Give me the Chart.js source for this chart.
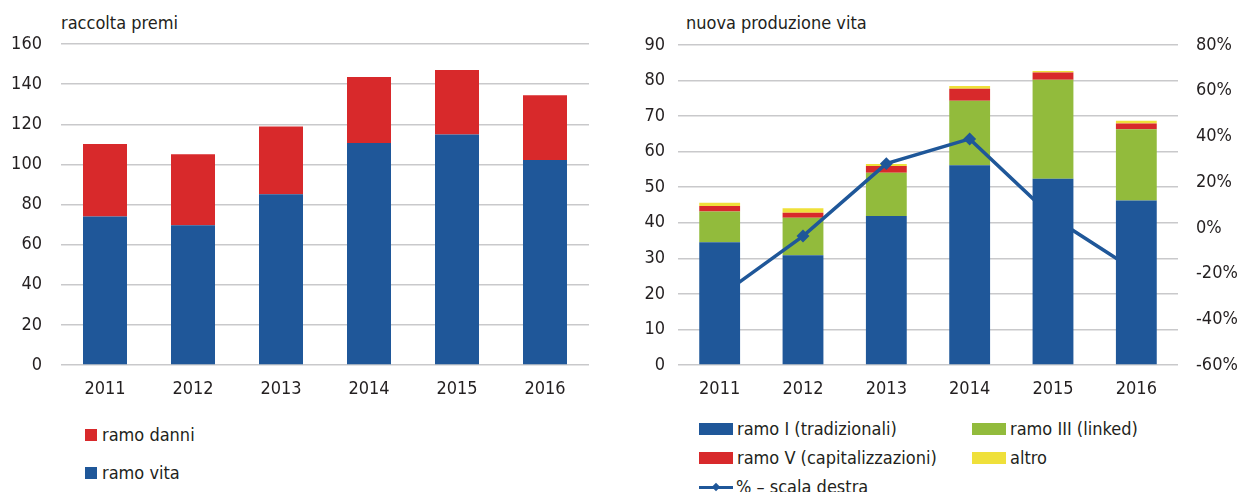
<!DOCTYPE html>
<html>
<head>
<meta charset="utf-8">
<script src="https://cdn.jsdelivr.net/npm/chart.js@4"></script>
<style>
body { margin: 0; background: #fff; width: 1243px; height: 492px; overflow: hidden; position: relative;
       font-family: 'Liberation Sans Narrow', 'DejaVu Sans Condensed', sans-serif; color: #231f20; }
.box { position: absolute; }
.title { position: absolute; font-size: 18px; line-height: 20px; }
.leg { position: absolute; font-size: 18px; line-height: 20px; height: 20px; display: flex; align-items: center; white-space: nowrap; }
.sw { display: inline-block; flex: none; }
.lineSw { position: relative; width: 34px; height: 3px; background: #1f5799; margin-right: 3px; }
.lineSw:after { content: ''; position: absolute; left: 14px; top: -2px; width: 6px; height: 6px; background: #1f5799; transform: rotate(45deg); }
</style>
</head>
<body>
<div class="title" style="left:61px; top:13px">raccolta premi</div>
<div class="title" style="left:686px; top:13px">nuova produzione vita</div>

<div class="box" style="left:0; top:0; width:620px; height:400px"><canvas id="premi"></canvas></div>
<div class="box" style="left:620px; top:0; width:623px; height:400px"><canvas id="vita"></canvas></div>

<div class="leg" style="left:85px; top:425px"><span class="sw" style="width:12px;height:12px;background:#d8292b;margin-right:5px"></span>ramo danni</div>
<div class="leg" style="left:85px; top:463px"><span class="sw" style="width:12px;height:12px;background:#1f5799;margin-right:5px"></span>ramo vita</div>

<div class="leg" style="left:699px; top:419px"><span class="sw" style="width:34px;height:12px;background:#1f5799;margin-right:4px"></span>ramo I (tradizionali)</div>
<div class="leg" style="left:972px; top:419px"><span class="sw" style="width:34px;height:12px;background:#92bb3c;margin-right:4px"></span>ramo III (linked)</div>
<div class="leg" style="left:699px; top:448px"><span class="sw" style="width:34px;height:12px;background:#d8292b;margin-right:4px"></span>ramo V (capitalizzazioni)</div>
<div class="leg" style="left:972px; top:448px"><span class="sw" style="width:34px;height:12px;background:#efe03a;margin-right:4px"></span>altro</div>
<div class="leg" style="left:699px; top:477px"><span class="sw lineSw"></span>% – scala destra</div>

<script>
const years = ['2011', '2012', '2013', '2014', '2015', '2016'];

// raccolta premi (left)
const ramoVita = [74.0, 69.7, 85.1, 110.6, 114.9, 102.2];
const ramoDanni = [36.2, 35.4, 33.8, 32.9, 32.1, 32.3];

// nuova produzione vita (right)
const ramoI = [34.5, 30.9, 41.9, 56.2, 52.4, 46.3];
const ramoIII = [8.7, 10.5, 12.2, 18.1, 27.8, 20.0];
const ramoV = [1.5, 1.4, 1.9, 3.4, 2.1, 1.6];
const altro = [0.9, 1.3, 0.5, 0.8, 0.4, 0.8];
const variazione = [-30, -3.6, 28.1, 38.9, 4.5, -19];

const BLUE = '#1f5799', RED = '#d8292b', GREEN = '#92bb3c', YELLOW = '#efe03a';
const GRID = '#c9c9cb';

Chart.defaults.font.family = "'Liberation Sans Narrow', 'DejaVu Sans Condensed', sans-serif";
Chart.defaults.font.size = 18;
Chart.defaults.color = '#231f20';
Chart.defaults.animation = false;

function xAxis() {
    return {
        stacked: true,
        grid: { display: false },
        border: { display: false },
        ticks: { padding: 6 },
        afterFit: s => { s.height = 35; }
    };
}

new Chart(document.getElementById('premi'), {
    type: 'bar',
    data: {
        labels: years,
        datasets: [
            { label: 'ramo vita', data: ramoVita, backgroundColor: BLUE },
            { label: 'ramo danni', data: ramoDanni, backgroundColor: RED }
        ]
    },
    options: {
        responsive: true,
        maintainAspectRatio: false,
        layout: { padding: { top: 44, right: 31, left: 0, bottom: 0 } },
        datasets: { bar: { barPercentage: 0.5, categoryPercentage: 1 } },
        plugins: { legend: { display: false }, tooltip: { enabled: false } },
        scales: {
            x: xAxis(),
            y: {
                stacked: true,
                min: 0, max: 160,
                ticks: { stepSize: 20, padding: 19 },
                grid: { color: GRID, lineWidth: 1.5, drawTicks: false },
                border: { display: false },
                afterFit: s => { s.width = 61; }
            }
        }
    }
});

new Chart(document.getElementById('vita'), {
    type: 'bar',
    data: {
        labels: years,
        datasets: [
            { label: 'ramo I (tradizionali)', data: ramoI, backgroundColor: BLUE, order: 0 },
            { label: 'ramo III (linked)', data: ramoIII, backgroundColor: GREEN, order: 2 },
            { label: 'ramo V (capitalizzazioni)', data: ramoV, backgroundColor: RED, order: 3 },
            { label: 'altro', data: altro, backgroundColor: YELLOW, order: 4 },
            {
                type: 'line', label: '% – scala destra', data: variazione, yAxisID: 'y1', order: 1,
                borderColor: BLUE, backgroundColor: BLUE, borderWidth: 3.5,
                pointStyle: 'rectRot', pointRadius: 4, tension: 0
            }
        ]
    },
    options: {
        responsive: true,
        maintainAspectRatio: false,
        layout: { padding: { top: 45, right: 0, left: 0, bottom: 0 } },
        datasets: { bar: { barPercentage: 0.49, categoryPercentage: 1 } },
        plugins: { legend: { display: false }, tooltip: { enabled: false } },
        scales: {
            x: xAxis(),
            y: {
                stacked: true,
                min: 0, max: 90,
                ticks: { stepSize: 10, padding: 13 },
                grid: { color: GRID, lineWidth: 1.5, drawTicks: false },
                border: { display: false },
                afterFit: s => { s.width = 58; }
            },
            y1: {
                position: 'right',
                min: -60, max: 80,
                ticks: { stepSize: 20, padding: 18, callback: v => (v < 0 ? '-' + Math.abs(v) : v) + '%' },
                grid: { display: false, drawTicks: false },
                border: { display: false },
                afterFit: s => { s.width = 65; }
            }
        }
    }
});
</script>
</body>
</html>
